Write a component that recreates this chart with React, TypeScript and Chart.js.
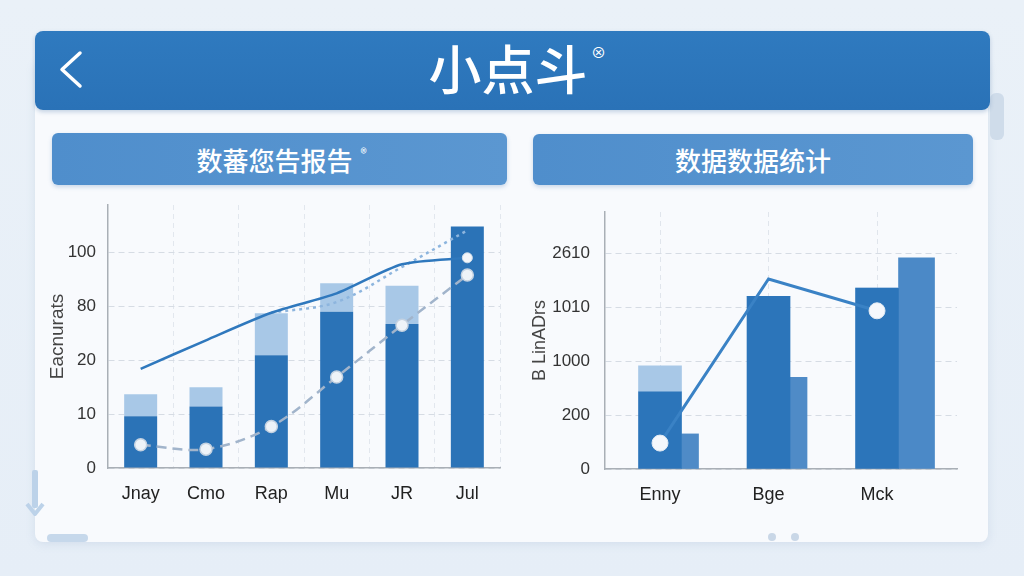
import React, { useEffect, useRef } from 'react';
import { Chart, registerables } from 'chart.js';

Chart.register(...registerables);

// ---------- data ----------
const pageTitle = '小点斗';
const leftPanelTitle = '数蕃您告报告';
const rightPanelTitle = '数据数据统计';

const leftCategories = ['Jnay', 'Cmo', 'Rap', 'Mu', 'JR', 'Jul'];
const leftTickLabels = ['0', '10', '20', '80', '100'];
const leftAxisTitle = 'Eacnurats';
// values in tick-step units (the axis labels are not evenly numbered)
const leftBarBase = [0.96, 1.14, 2.09, 2.9, 2.67, 4.48];
const leftBarTop = [0.41, 0.36, 0.78, 0.53, 0.71, 0];
const leftSolidLine = [1.84, 2.37, 2.88, 3.24, 3.78, 3.9];
const leftDashedLine = [0.43, 0.35, 0.77, 1.69, 2.65, 3.58];
const leftDottedLine = [null, null, 2.88, 3.08, 3.73, 4.41];

const rightCategories = ['Enny', 'Bge', 'Mck'];
const rightTickLabels = ['0', '200', '1000', '1010', '2610'];
const rightAxisTitle = 'B LinADrs';
const rightBarBase = [1.43, 3.2, 3.35];
const rightBarTop = [0.48, 0, 0];
const rightSideBar = [0.65, 1.7, null];
const rightWideBar = [null, null, 3.91];
const rightLine = [0.48, 3.52, 2.93];

const FONT = '"Liberation Sans", Arial, sans-serif';
const CJK = '"Noto Sans CJK SC", "Noto Sans", sans-serif';

function LeftChart() {
  const ref = useRef<HTMLCanvasElement>(null);
  useEffect(() => {
    const chart = new Chart(ref.current!, {
      type: 'bar',
      data: {
        labels: leftCategories,
        datasets: [
          {
            type: 'line',
            data: leftSolidLine,
            borderColor: '#2f78bd',
            borderWidth: 2.5,
            tension: 0.25,
            pointRadius: leftSolidLine.map((_, i) => (i === leftSolidLine.length - 1 ? 5 : 0)),
            pointBackgroundColor: '#f3f6fa',
            pointBorderColor: '#d3dfeb',
            pointBorderWidth: 1,
            fill: false,
            order: 0,
          } as any,
          {
            type: 'line',
            data: leftDottedLine,
            borderColor: '#8db5de',
            borderDash: [3, 4],
            borderWidth: 2.5,
            tension: 0.35,
            pointRadius: 0,
            fill: false,
            order: 1,
          } as any,
          {
            type: 'line',
            data: leftDashedLine,
            borderColor: '#a1b4cb',
            borderDash: [10, 6],
            borderWidth: 2.5,
            tension: 0.35,
            pointRadius: 6,
            pointBackgroundColor: '#eef3f8',
            pointBorderColor: '#c4d2e1',
            pointBorderWidth: 1.5,
            fill: false,
            order: 2,
          } as any,
          {
            type: 'bar',
            data: leftBarBase,
            backgroundColor: '#2b73b7',
            stack: 's',
            barPercentage: 0.505,
            categoryPercentage: 1,
            order: 5,
          },
          {
            type: 'bar',
            data: leftBarTop,
            backgroundColor: '#a8c8e7',
            stack: 's',
            barPercentage: 0.505,
            categoryPercentage: 1,
            order: 6,
          },
        ],
      },
      options: {
        animation: false,
        responsive: false,
        layout: { padding: { top: 10, right: 10, left: 0, bottom: 0 } },
        plugins: { legend: { display: false }, tooltip: { enabled: false } },
        scales: {
          x: {
            offset: true,
            grid: { offset: true, color: '#e2e7ee', drawTicks: false },
            border: { color: '#a9afb6', width: 1.5, dash: [5, 4] },
            ticks: { font: { family: FONT, size: 18 }, color: '#222', padding: 15 },
            afterFit: (s: any) => { s.height = 52; },
          },
          y: {
            min: 0,
            max: 4.88,
            afterBuildTicks: (s: any) => { s.ticks = leftTickLabels.map((_, i) => ({ value: i })); },
            ticks: {
              callback: (_v: any, i: number) => leftTickLabels[i] ?? '',
              font: { family: FONT, size: 17 },
              color: '#333',
              padding: 12,
            },
            grid: { color: '#d6dce4', drawTicks: false },
            border: { color: '#a9afb6', width: 1.5, dash: [6, 4] },
            title: {
              display: true,
              text: leftAxisTitle,
              font: { family: FONT, size: 19 },
              color: '#444',
              padding: { top: 6, bottom: 0 },
            },
            afterFit: (s: any) => { s.width = 68; s.paddingTop = 0; s.paddingBottom = 0; },
          },
        },
      } as any,
    });
    return () => chart.destroy();
  }, []);
  return <canvas ref={ref} width={470} height={325} style={{ display: 'block' }} />;
}

function RightChart() {
  const ref = useRef<HTMLCanvasElement>(null);
  useEffect(() => {
    const pts = (arr: (number | null)[]) => arr.map((v, i) => ({ x: i, y: v }));
    const setCatTicks = (s: any) => { s.ticks = rightCategories.map((_, i) => ({ value: i })); };
    const xMin = -0.507;
    const xMax = 2.737;
    const sideShift = 0.2765;
    const wideShift = 0.364;
    const hidden = (shift: number) => ({
      type: 'linear',
      display: false,
      offset: false,
      min: xMin - shift,
      max: xMax - shift,
      afterBuildTicks: setCatTicks,
      grid: { offset: false },
    });
    const chart = new Chart(ref.current!, {
      type: 'bar',
      data: {
        datasets: [
          {
            type: 'line',
            data: pts(rightLine),
            xAxisID: 'x',
            borderColor: '#3a82c5',
            borderWidth: 3,
            tension: 0,
            pointRadius: rightLine.map((_, i) => (i === 1 ? 0 : 8)),
            pointBackgroundColor: '#f5f8fc',
            pointBorderColor: '#e3ebf4',
            pointBorderWidth: 1,
            fill: false,
            order: 0,
          } as any,
          {
            type: 'bar',
            data: pts(rightBarBase),
            xAxisID: 'x',
            backgroundColor: '#2c75ba',
            stack: 'a',
            grouped: false,
            maxBarThickness: 43,
            barPercentage: 1,
            categoryPercentage: 1,
            order: 5,
          } as any,
          {
            type: 'bar',
            data: pts(rightBarTop),
            xAxisID: 'x',
            backgroundColor: '#a8c8e7',
            stack: 'a',
            grouped: false,
            maxBarThickness: 43,
            barPercentage: 1,
            categoryPercentage: 1,
            order: 6,
          } as any,
          {
            type: 'bar',
            data: pts(rightSideBar),
            xAxisID: 'x2',
            backgroundColor: '#4f8bc7',
            stack: 'b',
            grouped: false,
            maxBarThickness: 17,
            barPercentage: 1,
            categoryPercentage: 1,
            order: 7,
          } as any,
          {
            type: 'bar',
            data: pts(rightWideBar),
            xAxisID: 'x3',
            backgroundColor: '#4b89c7',
            stack: 'c',
            grouped: false,
            maxBarThickness: 36,
            barPercentage: 1,
            categoryPercentage: 1,
            order: 8,
          } as any,
        ],
      },
      options: {
        animation: false,
        responsive: false,
        layout: { padding: { top: 17, right: 13, left: 0, bottom: 0 } },
        plugins: { legend: { display: false }, tooltip: { enabled: false } },
        scales: {
          x: {
            type: 'linear',
            offset: false,
            min: xMin,
            max: xMax,
            afterBuildTicks: setCatTicks,
            grid: { offset: false, color: '#e0e5ec', drawTicks: false },
            border: { color: '#a9afb6', width: 1.5, dash: [5, 4] },
            ticks: {
              callback: (_v: any, i: number) => rightCategories[i] ?? '',
              font: { family: FONT, size: 18 },
              color: '#222',
              padding: 15,
            },
            afterFit: (s: any) => { s.height = 51; },
          },
          x2: hidden(sideShift),
          x3: hidden(wideShift),
          y: {
            min: 0,
            max: 4.76,
            afterBuildTicks: (s: any) => { s.ticks = rightTickLabels.map((_, i) => ({ value: i })); },
            ticks: {
              callback: (_v: any, i: number) => rightTickLabels[i] ?? '',
              font: { family: FONT, size: 17 },
              color: '#333',
              padding: 15,
            },
            grid: { color: '#d6dce4', drawTicks: false },
            border: { color: '#a9afb6', width: 1.5, dash: [6, 4] },
            title: {
              display: true,
              text: rightAxisTitle,
              font: { family: FONT, size: 18 },
              color: '#444',
              padding: { top: 9, bottom: 0 },
            },
            afterFit: (s: any) => { s.width = 85; s.paddingTop = 0; s.paddingBottom = 0; },
          },
        },
      } as any,
    });
    return () => chart.destroy();
  }, []);
  return <canvas ref={ref} width={450} height={325} style={{ display: 'block' }} />;
}

const abs = (l: number, t: number, w: number, h: number): React.CSSProperties => ({
  position: 'absolute',
  left: l,
  top: t,
  width: w,
  height: h,
});

export default function App() {
  return (
    <div
      style={{
        position: 'fixed',
        left: 0,
        top: 0,
        width: 1024,
        height: 576,
        overflow: 'hidden',
        background: 'linear-gradient(180deg, #eaf1f8 0%, #e6eef7 100%)',
        fontFamily: CJK,
      }}
    >
      {/* card */}
      <div
        style={{
          ...abs(35, 60, 953, 482),
          background: '#f8fafd',
          borderRadius: 8,
          boxShadow: '0 2px 10px rgba(120,150,190,0.18)',
        }}
      />
      {/* scroll indicator */}
      <div style={{ ...abs(990, 93, 14, 47), background: '#cfdcea', borderRadius: 6 }} />
      {/* header */}
      <div
        style={{
          ...abs(35, 31, 955, 79),
          background: 'linear-gradient(180deg, #2f7abf 0%, #2a72b7 100%)',
          borderRadius: 8,
          boxShadow: '0 2px 4px rgba(40,90,150,0.25)',
        }}
      >
        <svg width={40} height={50} style={{ position: 'absolute', left: 20, top: 15 }}>
          <polyline
            points="25,7 7,23.5 25,40"
            fill="none"
            stroke="#ffffff"
            strokeWidth={3.5}
            strokeLinecap="round"
            strokeLinejoin="round"
          />
        </svg>
        <div
          style={{
            position: 'absolute',
            left: 393,
            top: 0,
            width: 160,
            height: 79,
            textAlign: 'center',
            color: '#fff',
            fontSize: 53,
            fontWeight: 500,
            lineHeight: '72px',
            whiteSpace: 'nowrap',
          }}
        >
          {pageTitle}
        </div>
        <div
          style={{
            position: 'absolute',
            left: 556,
            top: 12,
            color: '#fff',
            fontSize: 15,
            lineHeight: '18px',
          }}
        >
          ⊗
        </div>
      </div>
      {/* panel headers */}
      <div
        style={{
          ...abs(52, 133, 455, 52),
          background: 'linear-gradient(90deg, #4f8ecc 0%, #5b97d1 100%)',
          borderRadius: 6,
          boxShadow: '0 2px 4px rgba(60,110,170,0.25)',
          display: 'flex',
          alignItems: 'center',
          justifyContent: 'center',
          color: '#fff',
        }}
      >
        <span style={{ fontSize: 26, fontWeight: 500, marginLeft: 4 }}>{leftPanelTitle}</span>
        <span style={{ fontSize: 13, alignSelf: 'flex-start', marginTop: 10, marginLeft: 8 }}>®</span>
      </div>
      <div
        style={{
          ...abs(533, 134, 440, 51),
          background: 'linear-gradient(90deg, #4f8ecc 0%, #5b97d1 100%)',
          borderRadius: 6,
          boxShadow: '0 2px 4px rgba(60,110,170,0.25)',
          display: 'flex',
          alignItems: 'center',
          justifyContent: 'center',
          color: '#fff',
        }}
      >
        <span style={{ fontSize: 26, fontWeight: 500 }}>{rightPanelTitle}</span>
      </div>
      {/* charts */}
      <div style={abs(40, 195, 470, 325)}>
        <LeftChart />
      </div>
      <div style={abs(520, 195, 450, 325)}>
        <RightChart />
      </div>
      {/* decorations */}
      <svg width={24} height={52} style={{ position: 'absolute', left: 23, top: 468 }}>
        <rect x={9} y={2} width={6} height={38} rx={2} fill="#bcd2e9" />
        <polyline points="4,36 12,46 20,36" fill="none" stroke="#bcd2e9" strokeWidth={4} strokeLinejoin="round" />
      </svg>
      <div style={{ ...abs(47, 534, 41, 8), background: '#c6d8eb', borderRadius: 4 }} />
      <div style={{ ...abs(768, 533, 8, 8), background: '#c9d7e7', borderRadius: 4 }} />
      <div style={{ ...abs(791, 533, 8, 8), background: '#c9d7e7', borderRadius: 4 }} />
    </div>
  );
}
